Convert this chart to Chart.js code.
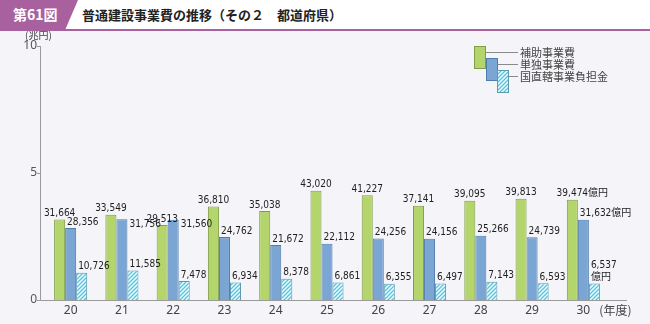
<!DOCTYPE html>
<html>
<head>
<meta charset="utf-8">
<script src="https://cdn.jsdelivr.net/npm/chart.js@4.4.0/dist/chart.umd.min.js"></script>
<style>
  html, body { margin: 0; padding: 0; background: #f4f4f9; }
  #wrap { position: relative; width: 650px; height: 324px; overflow: hidden; }
  #hdr { position: absolute; left: 0; top: 0; width: 650px; height: 29px; background: #fff; border-bottom: 2px solid #a8619e; z-index: 2; }
  #tag { position: absolute; left: 0; top: 0; width: 78px; height: 29px; background: #a8619e;
         clip-path: polygon(0 0, 100% 0, 84% 100%, 0 100%);
         color: #fff; font: bold 14px "Noto Sans CJK JP", sans-serif; line-height: 29px; padding-left: 13px; box-sizing: border-box; }
  #ttl { position: absolute; left: 82px; top: 0; font: bold 13px "Noto Sans CJK JP", sans-serif; line-height: 30px; color: #222; }
  canvas { position: absolute; left: 0; top: 0; }
</style>
</head>
<body>
<div id="wrap">
  <div id="hdr"><div id="tag">第61図</div><div id="ttl">普通建設事業費の推移（その２　都道府県）</div></div>
  <canvas id="chart" width="650" height="324"></canvas>
</div>
<script>
// 年度
var years = ['20', '21', '22', '23', '24', '25', '26', '27', '28', '29', '30'];
// 億円
var hojo = [31664, 33549, 29513, 36810, 35038, 43020, 41227, 37141, 39095, 39813, 39474];
var tandoku = [28356, 31756, 31560, 24762, 21672, 22112, 24256, 24156, 25266, 24739, 31632];
var futan = [10726, 11585, 7478, 6934, 8378, 6861, 6355, 6497, 7143, 6593, 6537];
var seriesNames = ['補助事業費', '単独事業費', '国直轄事業負担金'];
var yTicks = [0, 5, 10];

var GREEN = '#b4d56c', GREEN_B = '#7f9e48';
var BLUE = '#7ba6d4', BLUE_B = '#4d7cae';
var CYAN = '#4fc6df', CYAN_B = '#5d9aae';

function hatch() {
    var c = document.createElement('canvas');
    c.width = 4; c.height = 4;
    var g = c.getContext('2d');
    g.fillStyle = '#ffffff';
    g.fillRect(0, 0, 4, 4);
    g.strokeStyle = CYAN;
    g.lineWidth = 1.4;
    g.beginPath();
    g.moveTo(-1, 5); g.lineTo(5, -1);
    g.moveTo(-1, 1); g.lineTo(1, -1);
    g.moveTo(3, 5); g.lineTo(5, 3);
    g.stroke();
    return g.createPattern(c, 'repeat');
}
var hatchFill = hatch();

function toCho(v) { return v / 10000; }
function fmt(v) { return v.toLocaleString('en-US'); }

var labelFont = '10px "Liberation Sans Narrow", "DejaVu Sans Condensed", "Noto Sans CJK JP", sans-serif';

var labelsPlugin = {
    id: 'valueLabels',
    afterDatasetsDraw: function (chart) {
        var ctx = chart.ctx;
        var m0 = chart.getDatasetMeta(0).data;
        var m1 = chart.getDatasetMeta(1).data;
        var m2 = chart.getDatasetMeta(2).data;
        var last = years.length - 1;
        ctx.save();
        ctx.font = labelFont;
        ctx.fillStyle = '#1e1e1e';
        ctx.textBaseline = 'middle';
        for (var i = 0; i < years.length; i++) {
            // 補助
            var e = m0[i];
            var s = fmt(hojo[i]);
            ctx.textAlign = 'center';
            ctx.fillText(s, e.x, e.y - 6);
            if (i === last) {
                ctx.textAlign = 'left';
                ctx.fillText('億円', e.x + ctx.measureText(s).width / 2, e.y - 6);
            }
            // 単独
            e = m1[i];
            s = fmt(tandoku[i]) + (i === last ? '億円' : '');
            ctx.textAlign = 'left';
            if (e.y < m0[i].y + 7) {
                ctx.fillText(s, e.x + e.width / 2 + 2, e.y + 5);
            } else {
                ctx.fillText(s, e.x - e.width / 2 + 2, e.y - 6);
            }
            // 国直轄
            e = m2[i];
            if (i === last) {
                ctx.fillText(fmt(futan[i]), e.x - e.width / 2 + 2, e.y - 18);
                ctx.fillText('億円', e.x - e.width / 2 + 2, e.y - 6);
            } else {
                ctx.fillText(fmt(futan[i]), e.x - e.width / 2 + 2, e.y - 6);
            }
        }
        ctx.restore();
    }
};

var framePlugin = {
    id: 'frame',
    afterDraw: function (chart) {
        var ctx = chart.ctx;
        var y = chart.scales.y;
        var area = chart.chartArea;
        ctx.save();
        // axes
        ctx.strokeStyle = '#9a9a9a';
        ctx.lineWidth = 1;
        ctx.beginPath();
        ctx.moveTo(40.5, y.getPixelForValue(10));
        ctx.lineTo(40.5, area.bottom + 0.5);
        ctx.lineTo(627, area.bottom + 0.5);
        yTicks.forEach(function (t) {
            var py = Math.round(y.getPixelForValue(t)) + 0.5;
            ctx.moveTo(37, py);
            ctx.lineTo(40.5, py);
        });
        ctx.stroke();
        // units
        ctx.fillStyle = '#444';
        ctx.font = '10px "Noto Sans CJK JP", sans-serif';
        ctx.textBaseline = 'middle';
        ctx.textAlign = 'left';
        ctx.fillText('(兆円)', 25, 35);
        var x = chart.scales.x;
        ctx.font = '12px "Noto Sans CJK JP", sans-serif';
        ctx.fillText('(年度)', x.getPixelForValue(years.length - 1) + 16, area.bottom + 10);
        // legend
        var boxes = [[474, 46, GREEN, GREEN_B], [486, 58, BLUE, BLUE_B], [497, 70, hatchFill, CYAN_B]];
        ctx.font = '11px "Noto Sans CJK JP", sans-serif';
        boxes.forEach(function (b, k) {
            ctx.fillStyle = b[2];
            ctx.fillRect(b[0], b[1], 12, 23);
            ctx.strokeStyle = b[3];
            ctx.strokeRect(b[0] + 0.5, b[1] + 0.5, 11, 22);
            var ly = b[1] + 6.5;
            ctx.strokeStyle = '#8a8a8a';
            ctx.beginPath();
            ctx.moveTo(b[0] + 12, ly);
            ctx.lineTo(518, ly);
            ctx.stroke();
            ctx.fillStyle = '#444';
            ctx.fillText(seriesNames[k], 520, ly);
        });
        ctx.restore();
    }
};

var chart = new Chart(document.getElementById('chart').getContext('2d'), {
    type: 'bar',
    data: {
        labels: years,
        datasets: [{
            label: seriesNames[0],
            data: hojo.map(toCho),
            backgroundColor: GREEN,
            borderColor: GREEN_B,
            borderWidth: 1
        }, {
            label: seriesNames[1],
            data: tandoku.map(toCho),
            backgroundColor: BLUE,
            borderColor: BLUE_B,
            borderWidth: 1
        }, {
            label: seriesNames[2],
            data: futan.map(toCho),
            backgroundColor: hatchFill,
            borderColor: CYAN_B,
            borderWidth: 1
        }]
    },
    options: {
        responsive: false,
        devicePixelRatio: 1,
        animation: false,
        layout: { padding: { top: 46, right: 41, left: 0, bottom: 0 } },
        datasets: { bar: { categoryPercentage: 0.645, barPercentage: 1 } },
        plugins: { legend: { display: false }, tooltip: { enabled: false } },
        scales: {
            x: {
                grid: { display: false, drawTicks: false },
                border: { display: false },
                ticks: { color: '#444', font: { size: 12, family: '"Noto Sans", sans-serif' }, padding: 3, maxRotation: 0 },
                afterFit: function (s) { s.height = 24; }
            },
            y: {
                min: 0,
                max: 10,
                afterBuildTicks: function (s) { s.ticks = yTicks.map(function (v) { return { value: v }; }); },
                grid: { display: false, drawTicks: false },
                border: { display: false },
                ticks: { color: '#555', font: { size: 12, family: '"Noto Sans", sans-serif' }, padding: 8 },
                afterFit: function (s) { s.width = 45; }
            }
        }
    },
    plugins: [labelsPlugin, framePlugin]
});
</script>
</body>
</html>
